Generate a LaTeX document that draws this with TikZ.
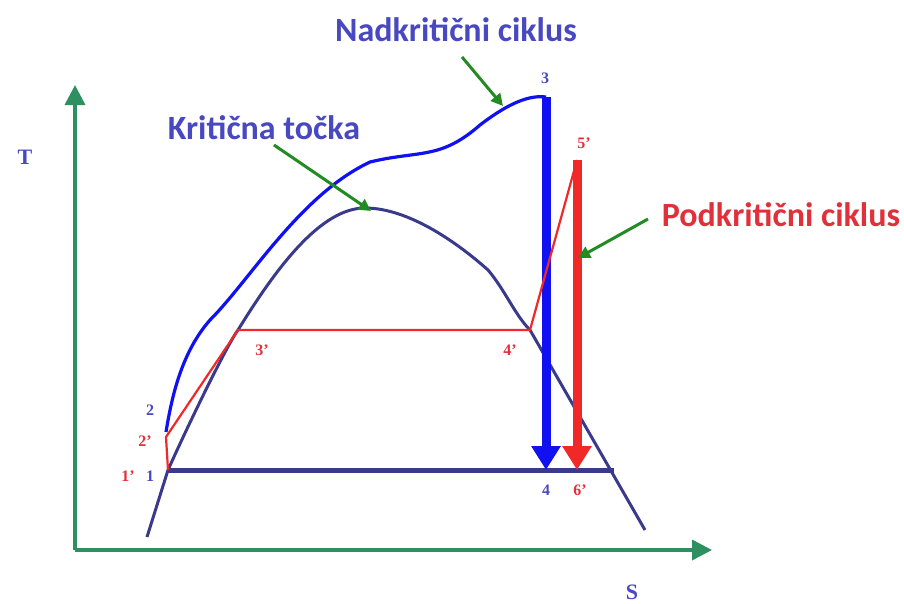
\documentclass[tikz,border=0pt]{standalone}
\usepackage{fontspec}
\setmainfont{Liberation Serif}
\newfontfamily\calib{Carlito}
\usetikzlibrary{arrows.meta}
\definecolor{axgreen}{HTML}{2E9060}
\definecolor{pgreen}{HTML}{228B22}
\definecolor{dome}{HTML}{3A3A8C}
\definecolor{cblue}{HTML}{1010F0}
\definecolor{cred}{HTML}{F02828}
\definecolor{tblue}{HTML}{4848C0}
\definecolor{tred}{HTML}{E0303A}
\tikzset{
  axis/.style={axgreen, line width=3.5pt, -{Triangle[width=20pt,length=20pt]}},
  pointer/.style={pgreen, line width=3pt, -{Triangle[width=12pt,length=12pt]}},
  bigarrow/.style={line width=9pt, -{Triangle[width=28pt,length=24pt]}},
  caption/.style={font=\calib\bfseries\fontsize{34}{38}\selectfont, inner sep=0pt},
  ptlabel/.style={font=\bfseries\fontsize{16}{17}\selectfont, inner sep=0pt},
}
\begin{document}
\begin{tikzpicture}[x=1pt,y=-1pt]
\useasboundingbox (0,0) rectangle (904,603);
% coordinates
\coordinate (o) at (75,550);
\coordinate (ytop) at (75,85);
\coordinate (xend) at (712,550);
\coordinate (p1) at (168,470);
\coordinate (p2) at (166,432);
\coordinate (p2p) at (166,437);
\coordinate (p3) at (546,97);
\coordinate (p3p) at (238,330);
\coordinate (p4p) at (530,330);
\coordinate (p5p) at (577,160);
\coordinate (p4) at (546,470);
\coordinate (p6p) at (577,470);
\coordinate (bend) at (614,470);
\coordinate (cp) at (365,208);
% axes
\draw[axis] (o) -- (ytop);
\draw[axis] (o) -- (xend);
\node[font=\bfseries\fontsize{22}{24}\selectfont, text=tblue, inner sep=0pt] (T) at (25,157) {T};
\node[font=\bfseries\fontsize{22}{24}\selectfont, text=tblue, inner sep=0pt] (S) at (632,592) {S};
% dome
\draw[dome, line width=3pt] (147,537) -- (p1)
  .. controls (195,410) and (230,340) .. (p3p)
  .. controls (275,270) and (320,208) .. (cp)
  .. controls (410,208) and (460,245) .. (488,270)
  .. controls (505,290) and (515,315) .. (p4p)
  -- (645,530);
\draw[dome, line width=5pt] (p1) -- (bend);
% supercritical
\draw[cblue, line width=3.2pt] (p2) .. controls (172,395) and (182,352) .. (210,320)
  .. controls (250,280) and (300,195) .. (370,162)
  .. controls (420,150) and (440,160) .. (480,125)
  .. controls (510,102) and (530,95) .. (p3);
\draw[cblue, bigarrow] (p3) -- (p4);
% subcritical
\draw[cred, line width=2.2pt] (p1) -- (p2p) -- (p3p) -- (p4p) -- (p5p);
\draw[cred, bigarrow] (p5p) -- (p6p);
% point labels
\node[ptlabel, text=tblue] (l3) at (545,78) {3};
\node[ptlabel, text=tred] (l5p) at (584,143) {5'};
\node[ptlabel, text=tblue] (l2) at (150,410) {2};
\node[ptlabel, text=tred] (l2p) at (145,441) {2'};
\node[ptlabel, text=tred] (l1p) at (128,476) {1'};
\node[ptlabel, text=tblue] (l1) at (150,476) {1};
\node[ptlabel, text=tred] (l3p) at (262,350) {3'};
\node[ptlabel, text=tred] (l4p) at (510,350) {4'};
\node[ptlabel, text=tblue] (l4) at (546,490) {4};
\node[ptlabel, text=tred] (l6p) at (580,490) {6'};
% captions
\node[caption, text=tblue] (nad) at (456,30) {Nadkritični ciklus};
\node[caption, text=tblue] (krit) at (264,128) {Kritična točka};
\node[caption, text=tred] (pod) at (781,215) {Podkritični ciklus};
\coordinate (a1s) at (462,57);
\coordinate (a1e) at (503,106);
\coordinate (a2s) at (274,145);
\coordinate (a2e) at (371,211);
\coordinate (a3s) at (648,219);
\coordinate (a3e) at (578,258);
\draw[pointer] (a1s) -- (a1e);
\draw[pointer] (a2s) -- (a2e);
\draw[pointer] (a3s) -- (a3e);
\end{tikzpicture}
\end{document}
